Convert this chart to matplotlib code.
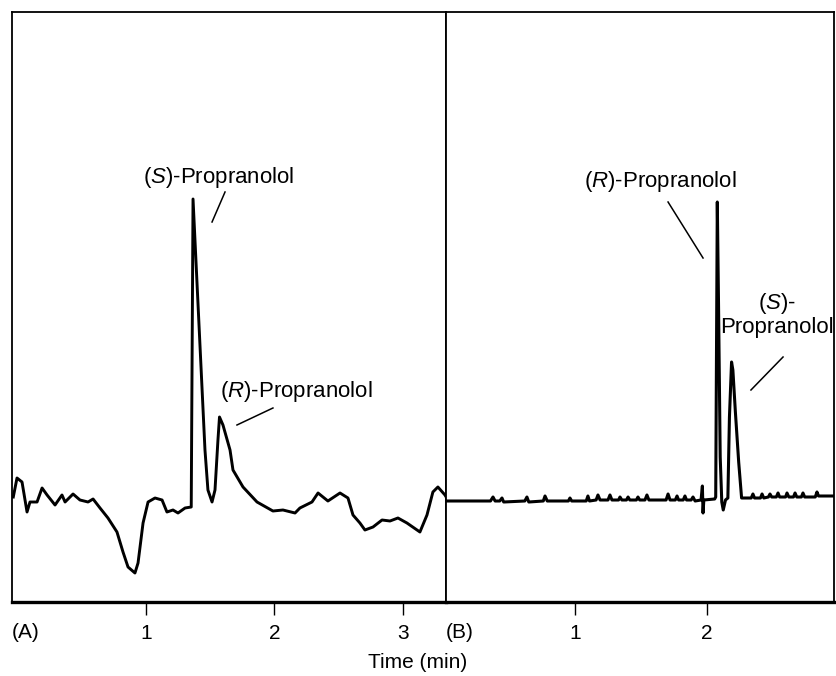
import matplotlib
matplotlib.use("Agg")
import matplotlib.pyplot as plt

plt.rcParams['font.family'] = ['Liberation Sans', 'DejaVu Sans']
plt.rcParams['mathtext.fontset'] = 'custom'
plt.rcParams['mathtext.rm'] = 'Liberation Sans'
plt.rcParams['mathtext.it'] = 'Liberation Sans:italic'

# panel A: racemic propranolol, trace (time in min, detector response)
time_a = [-0.033, -0.004, 0.035, 0.074, 0.097, 0.152, 0.191, 0.230, 0.292, 0.346,
          0.370, 0.432, 0.486, 0.549, 0.588, 0.642, 0.704, 0.774, 0.821, 0.860,
          0.914, 0.938, 0.977, 1.016, 1.070, 1.125, 1.163, 1.210, 1.249, 1.304,
          1.352, 1.366, 1.397, 1.459, 1.482, 1.514, 1.537, 1.560, 1.572, 1.599,
          1.654, 1.677, 1.755, 1.864, 1.988, 2.066, 2.160, 2.198, 2.292, 2.339,
          2.416, 2.510, 2.572, 2.611, 2.665, 2.704, 2.767, 2.837, 2.899, 2.961,
          3.031, 3.132, 3.187, 3.233, 3.272, 3.327, 3.350]
signal_a = [105, 124, 120, 90, 100, 100, 114, 107, 97, 107,
            100, 108, 102, 100, 103, 94, 84, 70, 50, 35,
            29, 39, 79, 100, 104, 102, 90, 92, 89, 94,
            95, 403, 319, 152, 112, 100, 112, 162, 185, 177,
            152, 132, 115, 100, 91, 92, 89, 94, 100, 109,
            101, 109, 104, 87, 79, 72, 75, 82, 81, 84,
            79, 70, 87, 110, 115, 107, 102]

# panel B: same sample on the second column
time_b = [0.023, 0.360, 0.379, 0.395, 0.430, 0.447, 0.460, 0.620, 0.636, 0.650,
          0.760, 0.773, 0.790, 0.950, 0.962, 0.975, 1.085, 1.098, 1.110, 1.160,
          1.174, 1.190, 1.250, 1.265, 1.280, 1.330, 1.341, 1.355, 1.390, 1.402,
          1.415, 1.465, 1.477, 1.490, 1.530, 1.545, 1.560, 1.690, 1.705, 1.720,
          1.760, 1.773, 1.785, 1.820, 1.833, 1.845, 1.880, 1.894, 1.910, 1.955,
          1.965, 1.970, 1.976, 2.058, 2.066, 2.078, 2.088, 2.100, 2.112, 2.123,
          2.140, 2.158, 2.170, 2.186, 2.196, 2.215, 2.240, 2.262, 2.335, 2.348,
          2.360, 2.405, 2.417, 2.430, 2.465, 2.477, 2.490, 2.525, 2.538, 2.550,
          2.595, 2.606, 2.620, 2.655, 2.667, 2.680, 2.715, 2.727, 2.740, 2.820,
          2.833, 2.845, 2.962]
signal_b = [101, 101, 105, 101, 101, 104, 100, 101, 105, 100,
            101, 106, 101, 101, 104, 101, 101, 106, 101, 102,
            107, 102, 102, 107, 102, 102, 105, 102, 102, 105,
            102, 102, 105, 102, 102, 107, 102, 102, 108, 102,
            102, 106, 102, 102, 106, 102, 102, 105, 101, 102,
            116, 89, 102, 103, 105, 400, 290, 145, 100, 92,
            102, 104, 185, 240, 232, 190, 140, 104, 104, 108,
            104, 104, 108, 104, 105, 108, 105, 105, 109, 105,
            105, 109, 105, 105, 109, 105, 105, 109, 105, 105,
            110, 106, 106]

fig = plt.figure(figsize=(8.36, 6.76), dpi=100)
ax_a = fig.add_axes([12 / 836, 74 / 676, 434 / 836, 590 / 676])
ax_b = fig.add_axes([446 / 836, 74 / 676, 388 / 836, 590 / 676])

ax_a.plot(time_a, signal_a, color='black', lw=2.1, solid_joinstyle='round')
ax_b.plot(time_b, signal_b, color='black', lw=2.2, solid_joinstyle='round')

ax_a.set_xlim(-0.043, 3.335)
ax_b.set_xlim(0.023, 2.962)
ax_a.set_xticks([1, 2, 3])
ax_b.set_xticks([1, 2])

for ax in (ax_a, ax_b):
    ax.set_ylim(0, 590)
    ax.set_yticks([])
    for side in ('top', 'left', 'right'):
        ax.spines[side].set_linewidth(1.3)
    ax.spines['bottom'].set_linewidth(2.4)
    ax.tick_params(axis='x', direction='out', length=9, width=1,
                   pad=7, labelsize=15)

ax_a.text(0, -0.0525, '(A)', transform=ax_a.transAxes, fontsize=15,
          ha='left', va='center')
ax_b.text(0, -0.0525, '(B)', transform=ax_b.transAxes, fontsize=15,
          ha='left', va='center')
fig.text(418 / 836, 1 - 663 / 676, 'Time (min)', fontsize=15,
         ha='center', va='center')

# peak labels and leader lines
ax_a.text(0.977, 425, r'($\mathit{S}$)-Propranolol', fontsize=16, va='center')
ax_a.plot([1.615, 1.514], [410, 380], color='black', lw=1.1)
ax_a.text(1.576, 210, r'($\mathit{R}$)-Propranolol', fontsize=16, va='center')
ax_a.plot([1.988, 1.708], [194, 177], color='black', lw=1.1)

ax_b.text(2.227, 420, r'($\mathit{R}$)-Propranolol', fontsize=16,
          ha='right', va='center')
ax_b.plot([1.705, 1.970], [400, 344], color='black', lw=1.1)
ax_b.text(2.530, 298, r'($\mathit{S}$)-', fontsize=16, ha='center', va='center')
ax_b.text(2.530, 274, 'Propranolol', fontsize=16, ha='center', va='center')
ax_b.plot([2.576, 2.333], [245, 212], color='black', lw=1.1)

fig.savefig('out.png', dpi=100)
